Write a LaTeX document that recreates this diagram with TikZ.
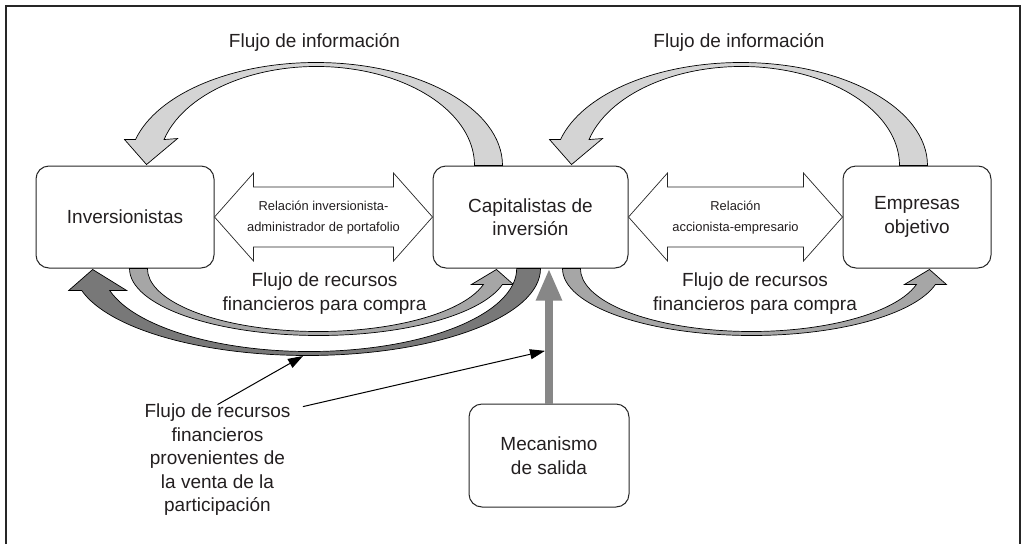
\documentclass[tikz,border=0pt]{standalone}
\usepackage{fontspec}
\setmainfont{Liberation Sans}
\usetikzlibrary{arrows.meta,calc}
\definecolor{txt}{RGB}{35,31,32}
\definecolor{infogray}{gray}{0.83}
\definecolor{buygray}{gray}{0.65}
\definecolor{salegray}{gray}{0.47}
\definecolor{exitgray}{gray}{0.53}

\begin{document}
\begin{tikzpicture}[x=1pt, y=-1pt,
  box/.style={draw=black!85, line width=1, rounded corners=13, minimum height=102,
    align=center, text=txt, font=\fontsize{19}{23.5}\selectfont},
  lbl/.style={align=center, text=txt, font=\fontsize{19}{23.5}\selectfont},
  rel/.style={align=center, text=txt, font=\fontsize{12.9}{21}\selectfont},
  dbl/.style={draw=black!85, line width=0.7, fill=white},
  band/.style={draw=black, line width=0.7, line join=miter},
  exitarr/.style={draw=exitgray, line width=8, -{Triangle[length=32pt,width=24pt]}},
  pointer/.style={draw=black, line width=1, -{Triangle[length=15pt,width=10pt]}}]
\useasboundingbox (0,0) rectangle (1028,544);
\draw[line width=2.5, black!85] (6,544) -- (6,6) -- (1020,6) -- (1020,544);

% actores
\node[box, minimum width=178] (inv) at (125,217) {Inversionistas};
\node[box, minimum width=195] (cap) at (530.5,217) {Capitalistas de\\inversión};
\node[box, minimum width=148] (emp) at (917,217) {Empresas\\objetivo};
\node[box, minimum width=160, minimum height=103] (mec) at (549,455.5) {Mecanismo\\de salida};

% relaciones
\draw[dbl] (inv.east) -- ++(39,-44) -- ++(0,14) -- ($(cap.west)+(-39,-30)$) -- ++(0,-14)
  -- (cap.west) -- ++(-39,44) -- ++(0,-14) -- ($(inv.east)+(39,30)$) -- ++(0,14) -- cycle;
\node[rel] at ($(inv.east)!0.5!(cap.west)+(0,1)$) {Relación inversionista-\\administrador de portafolio};
\draw[dbl] (cap.east) -- ++(39,-44) -- ++(0,14) -- ($(emp.west)+(-39,-30)$) -- ++(0,-14)
  -- (emp.west) -- ++(-39,44) -- ++(0,-14) -- ($(cap.east)+(39,30)$) -- ++(0,14) -- cycle;
\node[rel] at ($(cap.east)!0.5!(emp.west)+(0,1)$) {Relación\\accionista-empresario};

% flujo de informacion
\foreach \from/\dx in {cap/70, emp/85} {
  \filldraw[band, fill=infogray] ([xshift=\dx]\from.north west)
    arc[start angle=0, end angle=-165.4, x radius=186.5, y radius=103]
    -- ++(-11,0) -- ++(22,25) -- ++(31,-26) -- ++(-13.5,1)
    arc[start angle=-164.8, end angle=0, x radius=158, y radius=99] -- cycle;
}
\node[lbl] (info1) at (314.5,42) {Flujo de información};
\node[lbl] (info2) at (739,42) {Flujo de información};

% flujo de recursos para compra
\foreach \from/\dx in {inv/94, cap/130} {
  \filldraw[band, fill=buygray] ([xshift=\dx]\from.south west)
    arc[start angle=180, end angle=13.8, x radius=189.2, y radius=67]
    -- ++(11,0) -- ++(-17,-15) -- ++(-25,15) -- ++(12,0)
    arc[start angle=14.7, end angle=180, x radius=170.8, y radius=63] -- cycle;
}
\node[lbl] (buy1) at (324.5,293.5) {Flujo de recursos\\financieros para compra};
\node[lbl] (buy2) at (755,293.5) {Flujo de recursos\\financieros para compra};

% flujo de la venta
\filldraw[band, fill=salegray] ([xshift=108]cap.south west)
  arc[start angle=0, end angle=165.35, x radius=233.2, y radius=87]
  -- ++(-13,0) -- ++(24,-21) -- ++(34,21) -- ++(-17,0)
  arc[start angle=164.63, end angle=0, x radius=207.2, y radius=83] -- cycle;

% salida
\draw[exitarr] (mec.north) -- (mec.north |- cap.south);

\node[lbl] (vent) at (217.5,460) {Flujo de recursos\\financieros\\provenientes de\\la venta de la\\participación};
\coordinate (salept) at (303,356);
\coordinate (exitpt) at ($(mec.north)!0.39!(mec.north |- cap.south)+(-4,0)$);
\draw[pointer] ([yshift=-4]vent.north) -- (salept);
\draw[pointer] ([xshift=9,yshift=-6]vent.north east) -- (exitpt);
\end{tikzpicture}
\end{document}
